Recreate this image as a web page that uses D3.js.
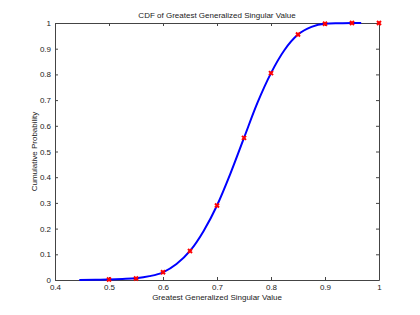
<!DOCTYPE html>
<html>
<head>
<meta charset="utf-8">
<script src="https://cdn.jsdelivr.net/npm/d3@7"></script>
<style>
  body { margin: 0; background: #fff; }
  svg text { font-family: "Liberation Sans", Arial, sans-serif; }
</style>
</head>
<body>
<svg id="chart" width="420" height="315"></svg>
<script>
// curve
var curveX = [0.445, 0.475, 0.5, 0.525, 0.55, 0.575, 0.6, 0.625, 0.65, 0.675, 0.7, 0.725,
  0.75, 0.775, 0.8, 0.825, 0.85, 0.875, 0.9, 0.925, 0.95, 0.967];
var curveY = [0.0, 0.0005, 0.002, 0.004, 0.007, 0.015, 0.03, 0.062, 0.113, 0.19, 0.29, 0.415,
  0.553, 0.69, 0.805, 0.895, 0.955, 0.985, 0.997, 0.999, 1.0, 1.0];
// red sample markers
var markX = [0.5, 0.55, 0.6, 0.65, 0.7, 0.75, 0.8, 0.85, 0.9, 0.95, 1.0];
var markY = [0.002, 0.006, 0.03, 0.113, 0.29, 0.553, 0.805, 0.955, 0.997, 1.0, 1.0];
var xTicks = [0.4, 0.5, 0.6, 0.7, 0.8, 0.9, 1];
var yTicks = [0, 0.1, 0.2, 0.3, 0.4, 0.5, 0.6, 0.7, 0.8, 0.9, 1];

renderChart();

function renderChart(){
  var left = 55, right = 379, top = 23, bottom = 280;
  var svg = d3.select('#chart');

  var x = d3.scaleLinear().domain([0.4, 1]).range([left, right]);
  var y = d3.scaleLinear().domain([0, 1]).range([bottom, top]);
  var axisColor = '#444';

  // box + ticks on all four sides, pointing inward
  svg.append('g').attr('transform', 'translate(0,' + bottom + ')')
     .call(d3.axisBottom(x).tickValues(xTicks).tickSizeInner(-3).tickSizeOuter(0).tickPadding(4)
       .tickFormat(d3.format('')));
  svg.append('g').attr('transform', 'translate(0,' + top + ')')
     .call(d3.axisTop(x).tickValues(xTicks).tickSizeInner(-3).tickSizeOuter(0).tickFormat(''));
  svg.append('g').attr('transform', 'translate(' + left + ',0)')
     .call(d3.axisLeft(y).tickValues(yTicks).tickSizeInner(-3).tickSizeOuter(0).tickPadding(4)
       .tickFormat(d3.format('')));
  svg.append('g').attr('transform', 'translate(' + right + ',0)')
     .call(d3.axisRight(y).tickValues(yTicks).tickSizeInner(-3).tickSizeOuter(0).tickFormat(''));

  svg.selectAll('.domain').attr('stroke', axisColor);
  svg.selectAll('.tick line').attr('stroke', axisColor);
  svg.selectAll('.tick text').attr('font-size', 8).attr('fill', '#222')
     .attr('font-family', '"Liberation Sans", Arial, sans-serif');

  // the cdf curve
  var pts = curveX.map((d, i) => [d, curveY[i]]);
  var line = d3.line().x(d => x(d[0])).y(d => y(d[1])).curve(d3.curveMonotoneX);
  svg.append('path').datum(pts)
     .attr('d', line)
     .attr('fill', 'none')
     .attr('stroke', '#0000ff')
     .attr('stroke-width', 2);

  // markers (small x's)
  var s = 2;
  var marks = svg.selectAll('g.mark')
     .data(markX.map((d, i) => [d, markY[i]]))
     .enter().append('g')
     .attr('class', 'mark')
     .attr('transform', d => 'translate(' + x(d[0]) + ',' + y(d[1]) + ')');
  marks.append('path')
     .attr('d', 'M' + (-s) + ',' + (-s) + 'L' + s + ',' + s + 'M' + (-s) + ',' + s + 'L' + s + ',' + (-s))
     .attr('stroke', '#ff0000')
     .attr('stroke-width', 2)
     .attr('fill', 'none');

  // labels
  svg.append('text').attr('x', (left + right) / 2).attr('y', 18)
     .attr('text-anchor', 'middle').attr('font-size', 8).attr('fill', '#222')
     .text('CDF of Greatest Generalized Singular Value');
  svg.append('text').attr('x', (left + right) / 2).attr('y', 300)
     .attr('text-anchor', 'middle').attr('font-size', 8).attr('fill', '#222')
     .text('Greatest Generalized Singular Value');
  svg.append('text')
     .attr('transform', 'translate(37,' + ((top + bottom) / 2) + ') rotate(-90)')
     .attr('text-anchor', 'middle').attr('font-size', 8).attr('fill', '#222')
     .text('Cumulative Probability');
}
</script>
</body>
</html>
